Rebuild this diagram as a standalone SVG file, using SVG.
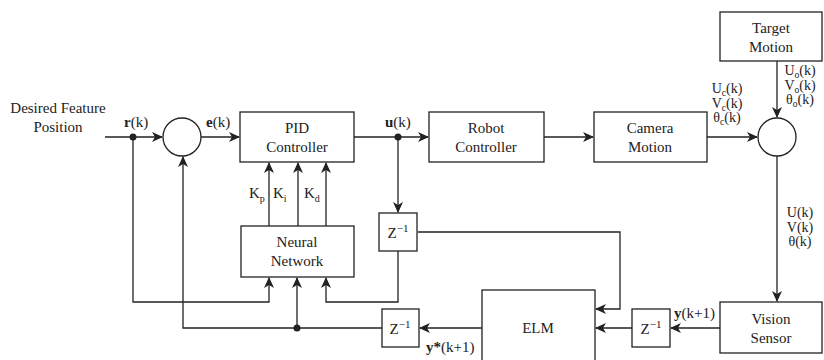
<svg xmlns="http://www.w3.org/2000/svg" width="824" height="360" viewBox="0 0 824 360">
<style>
text{font-family:"Liberation Serif","Times New Roman",serif;font-size:15px;fill:#222;}
.c{text-anchor:middle;}
.b{font-weight:bold;}
.s{font-size:14px;}
.box{fill:#fff;stroke:#222;stroke-width:1.3;}
.ln{fill:none;stroke:#222;stroke-width:1.3;}
</style>
<defs>
<marker id="ah" markerWidth="12" markerHeight="10" refX="10" refY="5" orient="auto" markerUnits="userSpaceOnUse">
<path d="M0,0 L11,5 L0,10 L3,5 z" fill="#222"/>
</marker>
</defs>
<rect width="824" height="360" fill="#fff"/>
<g id="connectors">
<path class="ln" d="M105,137 H162" marker-end="url(#ah)"/>
<path class="ln" d="M201,137 H239" marker-end="url(#ah)"/>
<path class="ln" d="M354,137 H428" marker-end="url(#ah)"/>
<path class="ln" d="M544,137 H593" marker-end="url(#ah)"/>
<path class="ln" d="M707,137 H757" marker-end="url(#ah)"/>
<path class="ln" d="M777,61 V117" marker-end="url(#ah)"/>
<path class="ln" d="M777,156 V301" marker-end="url(#ah)"/>
<path class="ln" d="M720,328 H671" marker-end="url(#ah)"/>
<path class="ln" d="M632,328 H596" marker-end="url(#ah)"/>
<path class="ln" d="M418,232 H620 V309 H596" marker-end="url(#ah)"/>
<path class="ln" d="M398,137 V212" marker-end="url(#ah)"/>
<path class="ln" d="M398,251 V302 H326 V278" marker-end="url(#ah)"/>
<path class="ln" d="M133,137 V302 H269 V278" marker-end="url(#ah)"/>
<path class="ln" d="M482,328 H420" marker-end="url(#ah)"/>
<path class="ln" d="M382,328 H183 V157" marker-end="url(#ah)"/>
<path class="ln" d="M297,328 V278" marker-end="url(#ah)"/>
<path class="ln" d="M269,226 V163" marker-end="url(#ah)"/>
<path class="ln" d="M298,226 V163" marker-end="url(#ah)"/>
<path class="ln" d="M326,226 V163" marker-end="url(#ah)"/>
<circle cx="133" cy="137" r="3.5" fill="#222"/>
<circle cx="398" cy="137" r="3.5" fill="#222"/>
<circle cx="297" cy="328" r="3.5" fill="#222"/>
</g>
<g id="input-label">
<text class="c" x="58" y="113">Desired Feature</text>
<text class="c" x="58" y="132">Position</text>
</g>
<g id="sum1"><circle class="box" cx="182" cy="137" r="19"/></g>
<g id="pid">
<rect class="box" x="240" y="112" width="114" height="50"/>
<text class="c" x="297" y="133">PID</text>
<text class="c" x="297" y="152">Controller</text>
</g>
<g id="robot">
<rect class="box" x="429" y="112" width="115" height="50"/>
<text class="c" x="486" y="133">Robot</text>
<text class="c" x="486" y="152">Controller</text>
</g>
<g id="camera">
<rect class="box" x="594" y="112" width="113" height="50"/>
<text class="c" x="650" y="133">Camera</text>
<text class="c" x="650" y="152">Motion</text>
</g>
<g id="sum2"><circle class="box" cx="777" cy="137" r="19"/></g>
<g id="target">
<rect class="box" x="720" y="12" width="102" height="49"/>
<text class="c" x="771" y="33">Target</text>
<text class="c" x="771" y="52">Motion</text>
</g>
<g id="vision">
<rect class="box" x="720" y="302" width="102" height="51"/>
<text class="c" x="771" y="324">Vision</text>
<text class="c" x="771" y="343">Sensor</text>
</g>
<g id="nn">
<rect class="box" x="241" y="226" width="113" height="51"/>
<text class="c" x="297" y="247">Neural</text>
<text class="c" x="297" y="266">Network</text>
</g>
<g id="elm">
<rect class="box" x="482" y="290" width="113" height="76"/>
<text class="c" x="538" y="333">ELM</text>
</g>
<g id="z1">
<rect class="box" x="379" y="213" width="38" height="38"/>
<text class="c" x="398" y="238">Z<tspan font-size="11" dy="-6">−1</tspan></text>
</g>
<g id="z2">
<rect class="box" x="382" y="309" width="37" height="38"/>
<text class="c" x="400" y="334">Z<tspan font-size="11" dy="-6">−1</tspan></text>
</g>
<g id="z3">
<rect class="box" x="632" y="309" width="38" height="38"/>
<text class="c" x="651" y="334">Z<tspan font-size="11" dy="-6">−1</tspan></text>
</g>
<g id="labels">
<text x="124" y="127"><tspan class="b">r</tspan>(k)</text>
<text x="206" y="127"><tspan class="b">e</tspan>(k)</text>
<text x="385" y="127"><tspan class="b">u</tspan>(k)</text>
<text x="249" y="198">K<tspan font-size="10" dy="4">p</tspan></text>
<text x="273" y="198">K<tspan font-size="10" dy="4">i</tspan></text>
<text x="304" y="198">K<tspan font-size="10" dy="4">d</tspan></text>
<text class="c s" x="727" y="93">U<tspan font-size="9.5" dy="3">c</tspan><tspan dy="-3">(k)</tspan></text>
<text class="c s" x="727" y="107.5">V<tspan font-size="9.5" dy="3">c</tspan><tspan dy="-3">(k)</tspan></text>
<text class="c s" x="727" y="122">θ<tspan font-size="9.5" dy="3">c</tspan><tspan dy="-3">(k)</tspan></text>
<text class="c s" x="800" y="75">U<tspan font-size="9.5" dy="3">o</tspan><tspan dy="-3">(k)</tspan></text>
<text class="c s" x="800" y="89.5">V<tspan font-size="9.5" dy="3">o</tspan><tspan dy="-3">(k)</tspan></text>
<text class="c s" x="800" y="104">θ<tspan font-size="9.5" dy="3">o</tspan><tspan dy="-3">(k)</tspan></text>
<text class="c s" x="800" y="217">U(k)</text>
<text class="c s" x="800" y="231.5">V(k)</text>
<text class="c s" x="800" y="246">θ(k)</text>
<text x="674" y="318"><tspan class="b">y</tspan>(k+1)</text>
<text x="426" y="352"><tspan class="b">y*</tspan>(k+1)</text>
</g>
</svg>
